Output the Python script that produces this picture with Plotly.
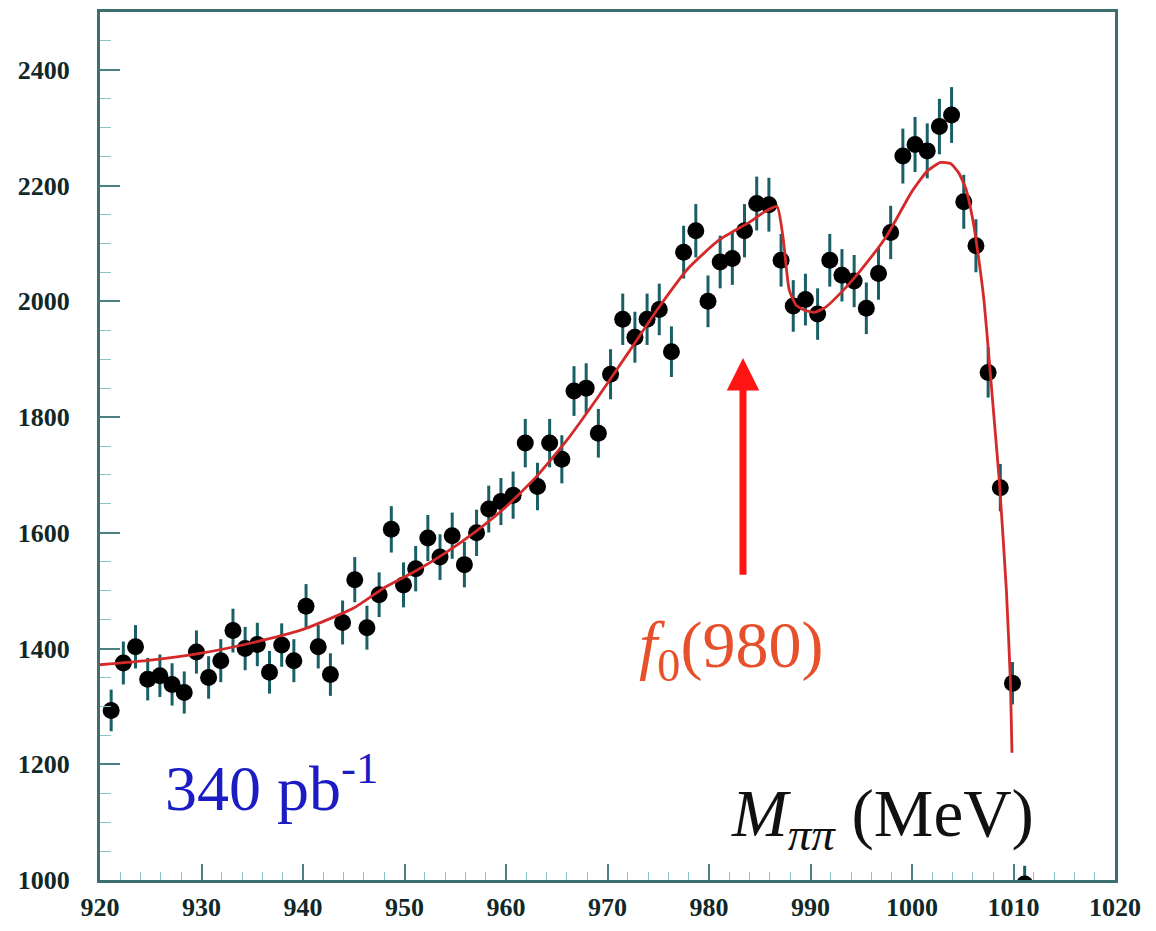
import numpy as np
import plotly.graph_objects as go

# pi+ pi- invariant mass bins (MeV) and event counts per bin
mass = [921.1, 922.3, 923.5, 924.7, 925.9, 927.1, 928.3, 929.5, 930.7, 931.9,
        933.1, 934.3, 935.5, 936.7, 937.9, 939.1, 940.3, 941.5, 942.7, 943.9,
        945.1, 946.3, 947.5, 948.7, 949.9, 951.1, 952.3, 953.5, 954.7, 955.9,
        957.1, 958.3, 959.5, 960.7, 961.9, 963.1, 964.3, 965.5, 966.7, 967.9,
        969.1, 970.3, 971.5, 972.7, 973.9, 975.1, 976.3, 977.5, 978.7, 979.9,
        981.1, 982.3, 983.5, 984.7, 985.9, 987.1, 988.3, 989.5, 990.7, 991.9,
        993.1, 994.3, 995.5, 996.7, 997.9, 999.1, 1000.3, 1001.5, 1002.7, 1003.9,
        1005.1, 1006.3, 1007.5, 1008.7, 1009.9, 1011.1]
events = [1293, 1375, 1403, 1347, 1353, 1338, 1324, 1394, 1350, 1379,
          1431, 1400, 1407, 1359, 1406, 1379, 1473, 1403, 1355, 1445,
          1519, 1436, 1493, 1606, 1510, 1538, 1591, 1558, 1595, 1545,
          1600, 1641, 1654, 1665, 1755, 1680, 1755, 1727, 1845, 1850,
          1772, 1874, 1969, 1938, 1969, 1986, 1913, 2085, 2122, 2000,
          2068, 2074, 2122, 2169, 2167, 2071, 1992, 2003, 1978, 2071,
          2045, 2035, 1988, 2048, 2119, 2251, 2271, 2260, 2302, 2322,
          2172, 2096, 1877, 1678, 1340, 993]

# fitted spectrum (sampled)
fit_mass = [920, 925, 930, 935, 940, 945, 948, 951, 954, 957,
            960, 963, 966, 969, 972, 975, 978, 981, 984, 985.5,
            986.7, 987.3, 987.9, 988.6, 989.5, 990.4, 991.5, 993, 995, 997.5,
            1000, 1001.5, 1002.8, 1003.8, 1004.6, 1005.3, 1006, 1006.6, 1007.1, 1007.6,
            1008.1, 1008.6, 1009.3, 1009.7, 1009.85]
fit_events = [1372, 1380, 1392, 1410, 1433, 1470, 1505, 1533, 1565, 1602,
              1645, 1697, 1760, 1833, 1910, 1988, 2058, 2106, 2137, 2155,
              2164, 2110, 2020, 1993, 1984, 1981, 1990, 2015, 2055, 2113,
              2190, 2225, 2240, 2238, 2222, 2195, 2140, 2070, 2000, 1900,
              1795, 1690, 1500, 1340, 1220]

y_ticks = [1000, 1200, 1400, 1600, 1800, 2000, 2200, 2400]
x_ticks = [920, 930, 940, 950, 960, 970, 980, 990, 1000, 1010, 1020]

SERIF = "Liberation Serif, Times New Roman, serif"
FRAME = "#3d6f6f"

fig = go.Figure()

fig.add_trace(go.Scatter(
    x=mass, y=events, mode="markers",
    marker=dict(color="black", size=17, symbol="circle"),
    error_y=dict(type="data", array=np.sqrt(events), color="#195f66",
                 thickness=3, width=0),
    hoverinfo="skip",
))

fig.add_trace(go.Scatter(
    x=fit_mass, y=fit_events, mode="lines",
    line=dict(color="#d42a2a", width=2.8, shape="spline", smoothing=0.5),
    hoverinfo="skip",
))

axis_font = dict(family=SERIF, size=26, color="#102828", weight="bold")

fig.update_xaxes(
    range=[920, 1020], tickvals=x_ticks, ticks="inside", ticklen=16,
    tickwidth=1.5, tickcolor="#4d8080",
    minor=dict(dtick=2, tick0=920, ticks="inside", ticklen=8,
               tickcolor="#8cc3c3", tickwidth=1, showgrid=False),
    showline=True, linecolor=FRAME, linewidth=3, mirror=True,
    showgrid=False, zeroline=False, tickfont=axis_font,
    ticklabelstandoff=2,
)
fig.update_yaxes(
    range=[1000, 2500], tickvals=y_ticks, ticks="inside", ticklen=20,
    tickwidth=1.5, tickcolor="#4d8080",
    minor=dict(dtick=50, tick0=1000, ticks="inside", ticklen=11,
               tickcolor="#8cc3c3", tickwidth=1, showgrid=False),
    showline=True, linecolor=FRAME, linewidth=3, mirror=True,
    showgrid=False, zeroline=False, tickfont=axis_font,
    ticklabelstandoff=22,
)

# resonance marker
fig.add_annotation(
    x=983.35, y=1902, ax=983.35, ay=1525, xref="x", yref="y",
    axref="x", ayref="y", text="", showarrow=True, arrowhead=2,
    arrowsize=0.93, arrowwidth=7, arrowcolor="#ff1414", standoff=0,
)
fig.add_annotation(
    x=972.9, y=1398, xref="x", yref="y", xanchor="left", yanchor="middle",
    text="<i>f</i><sub>0</sub>(980)", showarrow=False,
    font=dict(family=SERIF, size=66, color="#e6512b"),
)
fig.add_annotation(
    x=926.2, y=1166, xref="x", yref="y", xanchor="left", yanchor="middle",
    text="340 pb<sup>-1</sup>", showarrow=False,
    font=dict(family=SERIF, size=64, color="#1c1cc4"),
)
fig.add_annotation(
    x=982.0, y=1108, xref="x", yref="y", xanchor="left", yanchor="middle",
    text="<i>M</i><sub><i>ππ</i></sub> (MeV)", showarrow=False,
    font=dict(family=SERIF, size=67, color="#111111"),
)

fig.update_layout(
    width=1156, height=931,
    margin=dict(l=100, r=41, t=9, b=36),
    paper_bgcolor="white", plot_bgcolor="white",
    showlegend=False,
    font=dict(family=SERIF),
)

fig.write_html("out.html")
